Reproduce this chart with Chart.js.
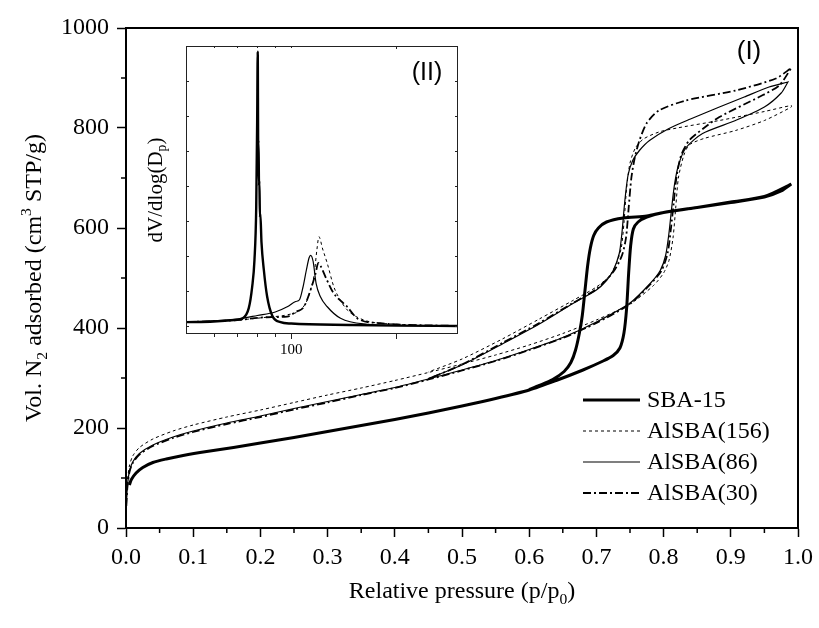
<!DOCTYPE html>
<html>
<head>
<meta charset="utf-8">
<script src="https://cdn.jsdelivr.net/npm/chart.js@4.4.1/dist/chart.umd.min.js"></script>
<style>
  html, body { margin: 0; padding: 0; background: #fff; }
  #wrap { position: relative; width: 819px; height: 628px; }
  #main { position: absolute; left: 0; top: 0; }
  #inset { position: absolute; left: 176px; top: 36px; }
</style>
</head>
<body>
<div id="wrap">
  <canvas id="main" width="819" height="628"></canvas>
  <canvas id="inset" width="292" height="329"></canvas>
</div>
<script>
// ---- isotherm data: [p/p0, volume adsorbed (cm3 STP/g)] ----
const seriesNames = ["SBA-15", "AlSBA(156)", "AlSBA(86)", "AlSBA(30)"];

const sba15Ads = [
  [0.005, 86], [0.008, 97], [0.015, 110], [0.025, 121], [0.04, 131],
  [0.06, 138], [0.085, 145], [0.12, 153], [0.16, 161], [0.2, 170], [0.25, 181],
  [0.3, 193], [0.35, 205], [0.4, 217], [0.45, 230], [0.5, 244], [0.55, 259],
  [0.6, 276], [0.64, 295], [0.68, 316], [0.71, 334], [0.725, 345], [0.735, 360],
  [0.741, 390], [0.745, 440], [0.748, 510], [0.751, 565], [0.755, 598], [0.762, 612],
  [0.775, 622], [0.8, 631], [0.85, 641], [0.9, 651], [0.95, 662], [0.975, 674], [0.99, 688]
];
const sba15Des = [
  [0.99, 688], [0.95, 663], [0.9, 652], [0.85, 641], [0.8, 631], [0.775, 624],
  [0.74, 620], [0.715, 612], [0.703, 600], [0.696, 585], [0.691, 560], [0.687, 525],
  [0.683, 475], [0.679, 425], [0.675, 392], [0.669, 356], [0.662, 331], [0.652, 313],
  [0.635, 297], [0.615, 285], [0.6, 277]
];

const al156Ads = [
  [0.0005, 50], [0.002, 92], [0.005, 124], [0.01, 144], [0.02, 161], [0.04, 178],
  [0.07, 194], [0.1, 206], [0.15, 222], [0.2, 236], [0.25, 251], [0.3, 266],
  [0.35, 280], [0.4, 295], [0.45, 311], [0.5, 328], [0.55, 346], [0.6, 366],
  [0.65, 389], [0.7, 416], [0.75, 448], [0.785, 485], [0.8, 510], [0.808, 535],
  [0.814, 580], [0.818, 640], [0.822, 700], [0.83, 745], [0.838, 766], [0.86, 779],
  [0.907, 795], [0.95, 815], [0.99, 842]
];
const al156Des = [
  [0.99, 845], [0.95, 833], [0.883, 815], [0.82, 800], [0.793, 792], [0.77, 778],
  [0.758, 760], [0.75, 730], [0.745, 680], [0.741, 610], [0.737, 560], [0.73, 530],
  [0.72, 505], [0.7, 482], [0.665, 455], [0.615, 418], [0.56, 378], [0.5, 338], [0.45, 312]
];

const al86Ads = [
  [0.0005, 45], [0.002, 82], [0.005, 113], [0.01, 132], [0.02, 149], [0.04, 166],
  [0.07, 182], [0.1, 194], [0.15, 210], [0.2, 224], [0.25, 239], [0.3, 253],
  [0.35, 267], [0.4, 281], [0.45, 298], [0.5, 316], [0.55, 335], [0.6, 357],
  [0.65, 381], [0.7, 412], [0.75, 450], [0.78, 489], [0.795, 515], [0.803, 545],
  [0.808, 590], [0.812, 640], [0.816, 685], [0.822, 725], [0.833, 760], [0.858, 789],
  [0.907, 815], [0.95, 842], [0.975, 870], [0.985, 892]
];
const al86Des = [
  [0.985, 892], [0.957, 882], [0.92, 862], [0.883, 842], [0.84, 818], [0.808, 799],
  [0.779, 775], [0.764, 755], [0.754, 735], [0.747, 705], [0.742, 650], [0.738, 590],
  [0.734, 549], [0.725, 515], [0.715, 495], [0.7, 476], [0.665, 449], [0.615, 408],
  [0.56, 368], [0.5, 326], [0.45, 299]
];

const al30Ads = [
  [0.0005, 44], [0.002, 80], [0.005, 111], [0.01, 130], [0.02, 147], [0.04, 164],
  [0.07, 180], [0.1, 192], [0.15, 208], [0.2, 222], [0.25, 237], [0.3, 251],
  [0.35, 266], [0.4, 280], [0.45, 297], [0.5, 315], [0.55, 334], [0.6, 356],
  [0.65, 380], [0.7, 410], [0.75, 448], [0.78, 487], [0.797, 515], [0.806, 550],
  [0.811, 600], [0.815, 650], [0.819, 700], [0.826, 745], [0.838, 775], [0.86, 800],
  [0.883, 822], [0.942, 862], [0.972, 885], [0.99, 920]
];
const al30Des = [
  [0.99, 920], [0.967, 899], [0.907, 875], [0.833, 855], [0.793, 835], [0.775, 810],
  [0.764, 775], [0.757, 740], [0.752, 700], [0.748, 640], [0.744, 580], [0.738, 545],
  [0.725, 512], [0.7, 478], [0.665, 450], [0.615, 410], [0.56, 370], [0.5, 327], [0.45, 298]
];

// ---- inset: pore size distribution [Dp (Å), dV/dlog(Dp) arb.] ----
const sba15Psd = [
  [50, 0.11], [60, 0.13], [70, 0.18], [72.4, 0.21], [75.6, 0.51], [77.3, 1.11],
  [78.5, 1.89], [79.4, 3.37], [79.9, 5.83], [80.2, 7.84], [80.45, 5.2], [80.6, 5.3],
  [80.9, 4.0], [81.05, 4.15], [81.4, 3.1], [81.6, 3.2], [82.2, 2.4], [83.5, 1.6],
  [85.3, 0.85], [88.2, 0.3], [93.2, 0.11], [100, 0.07], [150, 0.03], [200, 0.01], [300, 0.0]
];
const al156Psd = [
  [50, 0.11], [70, 0.17], [85, 0.25], [97.4, 0.32], [106.3, 0.46], [111.1, 0.74],
  [114, 1.1], [116.1, 1.41], [118.5, 2.2], [120, 2.55], [123, 2.2], [126.8, 1.79],
  [132.4, 1.12], [138, 0.75], [144.6, 0.46], [161.5, 0.17], [200, 0.05], [300, 0.0]
];
const al86Psd = [
  [50, 0.11], [70, 0.2], [80, 0.3], [90, 0.4], [97.4, 0.55], [103, 0.7], [105.6, 0.75],
  [108, 1.1], [110.5, 1.6], [112.5, 1.95], [113.6, 2.02], [115.5, 1.85], [117.8, 1.22],
  [121, 0.85], [126.8, 0.55], [138.4, 0.22], [165, 0.05], [200, 0.02], [300, 0.0]
];
const al30Psd = [
  [50, 0.11], [70, 0.17], [85, 0.25], [97.4, 0.27], [103, 0.4], [108.7, 0.55],
  [113.6, 1.03], [117.4, 1.5], [119.5, 1.8], [121.3, 1.72], [126, 1.35], [132, 0.95],
  [144.6, 0.55], [155, 0.21], [180, 0.08], [300, 0.0]
];

const styles = [
  { width: 3, dash: [] },
  { width: 1, dash: [3, 3] },
  { width: 1.2, dash: [] },
  { width: 1.8, dash: [8, 3, 2, 3] }
];

const serif = "'Liberation Serif', 'Times New Roman', serif";
const sans = "'Liberation Sans', Arial, sans-serif";

function toPts(arr) {
  return arr.map(function (d) { return { x: d[0], y: d[1] }; });
}

function drawRich(ctx, parts, x, y, size, family) {
  let total = 0;
  parts.forEach(function (p) {
    ctx.font = (p.sub || p.sup ? size * 0.65 : size) + "px " + family;
    total += ctx.measureText(p.t).width;
  });
  let cx = x - total / 2;
  ctx.textAlign = "left";
  ctx.textBaseline = "middle";
  parts.forEach(function (p) {
    ctx.font = (p.sub || p.sup ? size * 0.65 : size) + "px " + family;
    let dy = p.sub ? size * 0.32 : p.sup ? -size * 0.35 : 0;
    ctx.fillText(p.t, cx, y + dy);
    cx += ctx.measureText(p.t).width;
  });
}

const mainDecor = {
  id: "mainDecor",
  afterDraw(chart) {
    const ctx = chart.ctx;
    const a = chart.chartArea;
    const xs = chart.scales.x, ys = chart.scales.y;
    ctx.save();
    ctx.strokeStyle = "#000";
    ctx.fillStyle = "#000";
    // frame top / right
    ctx.lineWidth = 2;
    ctx.beginPath();
    ctx.moveTo(a.left, a.top); ctx.lineTo(a.right, a.top); ctx.lineTo(a.right, a.bottom);
    ctx.stroke();
    // minor ticks
    ctx.lineWidth = 1.5;
    for (let v = 0.05; v < 1; v += 0.1) {
      const px = xs.getPixelForValue(v);
      ctx.beginPath(); ctx.moveTo(px, a.bottom); ctx.lineTo(px, a.bottom + 5); ctx.stroke();
    }
    for (let v = 100; v < 1000; v += 200) {
      const py = ys.getPixelForValue(v);
      ctx.beginPath(); ctx.moveTo(a.left, py); ctx.lineTo(a.left - 5, py); ctx.stroke();
    }
    // axis titles
    drawRich(ctx, [{ t: "Relative pressure (p/p" }, { t: "0", sub: true }, { t: ")" }],
      (a.left + a.right) / 2, 592, 24, serif);
    ctx.save();
    ctx.translate(35, (a.top + a.bottom) / 2);
    ctx.rotate(-Math.PI / 2);
    drawRich(ctx, [{ t: "Vol. N" }, { t: "2", sub: true }, { t: " adsorbed (cm" }, { t: "3", sup: true }, { t: " STP/g)" }],
      0, 0, 24, serif);
    ctx.restore();
    // inset y title
    ctx.save();
    ctx.translate(156, 190);
    ctx.rotate(-Math.PI / 2);
    drawRich(ctx, [{ t: "dV/dlog(D" }, { t: "p", sub: true }, { t: ")" }], 0, 0, 21, serif);
    ctx.restore();
    // (I)
    ctx.font = "26px " + sans;
    ctx.textAlign = "center";
    ctx.textBaseline = "middle";
    ctx.fillText("(I)", 749, 52);
    // legend
    const rows = [400, 431, 462, 493];
    seriesNames.forEach(function (name, i) {
      ctx.lineWidth = styles[i].width;
      ctx.setLineDash(styles[i].dash);
      ctx.beginPath(); ctx.moveTo(583, rows[i]); ctx.lineTo(640, rows[i]); ctx.stroke();
      ctx.setLineDash([]);
      ctx.font = "24px " + serif;
      ctx.textAlign = "left";
      ctx.textBaseline = "middle";
      ctx.fillText(name, 647, rows[i] + 1);
    });
    ctx.restore();
  }
};

const insetDecor = {
  id: "insetDecor",
  afterDraw(chart) {
    const ctx = chart.ctx;
    const a = chart.chartArea;
    const xs = chart.scales.x, ys = chart.scales.y;
    ctx.save();
    ctx.strokeStyle = "#222";
    ctx.fillStyle = "#000";
    ctx.lineWidth = 1;
    ctx.strokeRect(a.left + 0.5, a.top + 0.5, a.right - a.left - 1, a.bottom - a.top);
    [60, 70, 80, 90, 100, 200].forEach(function (v) {
      const px = Math.round(xs.getPixelForValue(v)) + 0.5;
      const len = (v === 100 || v === 200) ? 6 : 4;
      ctx.beginPath(); ctx.moveTo(px, a.bottom); ctx.lineTo(px, a.bottom + len); ctx.stroke();
      ctx.beginPath(); ctx.moveTo(px, a.top); ctx.lineTo(px, a.top + (v === 200 ? 3 : 2)); ctx.stroke();
    });
    for (let v = 0; v <= 8; v++) {
      const py = Math.round(ys.getPixelForValue(v)) + 0.5;
      ctx.beginPath(); ctx.moveTo(a.right - 3, py); ctx.lineTo(a.right, py); ctx.stroke();
      ctx.beginPath(); ctx.moveTo(a.left, py); ctx.lineTo(a.left + 3, py); ctx.stroke();
    }
    ctx.font = "15px " + serif;
    ctx.textAlign = "center";
    ctx.textBaseline = "middle";
    ctx.fillText("100", xs.getPixelForValue(100), a.bottom + 17);
    ctx.font = "25px " + sans;
    ctx.fillText("(II)", 251, 37);
    ctx.restore();
  }
};

const mainSets = [
  sba15Ads.concat(sba15Des), al156Ads.concat(al156Des),
  al86Ads.concat(al86Des), al30Ads.concat(al30Des)
].map(function (d, i) {
  return {
    label: seriesNames[i], data: toPts(d), showLine: true, pointRadius: 0,
    borderColor: "#000", borderWidth: styles[i].width, borderDash: styles[i].dash,
    tension: 0.25, fill: false
  };
});

new Chart(document.getElementById("main"), {
  type: "scatter",
  data: { datasets: mainSets },
  options: {
    responsive: false, animation: false, devicePixelRatio: 1,
    layout: { padding: { top: 28, right: 20, left: 0, bottom: 0 } },
    plugins: { legend: { display: false }, tooltip: { enabled: false } },
    scales: {
      x: {
        type: "linear", min: 0, max: 1,
        ticks: { stepSize: 0.1, autoSkip: false, maxRotation: 0, color: "#000", padding: 6,
          font: { family: serif, size: 24 }, callback: function (v) { return v.toFixed(1); } },
        grid: { drawOnChartArea: false, tickLength: 9, tickColor: "#000", tickWidth: 1.5 },
        border: { color: "#000", width: 2 },
        afterFit: function (s) { s.height = 100; }
      },
      y: {
        type: "linear", min: 0, max: 1000,
        ticks: { stepSize: 200, color: "#000", padding: 8, font: { family: serif, size: 24 },
          callback: function (v) { return String(v); } },
        grid: { drawOnChartArea: false, tickLength: 9, tickColor: "#000", tickWidth: 1.5 },
        border: { color: "#000", width: 2 },
        afterFit: function (s) { s.width = 126; }
      }
    }
  },
  plugins: [mainDecor]
});

const insetSets = [sba15Psd, al156Psd, al86Psd, al30Psd].map(function (d, i) {
  return {
    label: seriesNames[i], data: toPts(d), showLine: true, pointRadius: 0,
    borderColor: "#000", borderWidth: i === 0 ? 2.4 : styles[i].width,
    borderDash: styles[i].dash, cubicInterpolationMode: "monotone", fill: false
  };
});

new Chart(document.getElementById("inset"), {
  type: "scatter",
  data: { datasets: insetSets },
  options: {
    responsive: false, animation: false, devicePixelRatio: 1,
    layout: { padding: { top: 10, right: 10, left: 10, bottom: 32 } },
    plugins: { legend: { display: false }, tooltip: { enabled: false } },
    scales: {
      x: { type: "logarithmic", min: 50, max: 300, display: false },
      y: { type: "linear", min: -0.2, max: 8, display: false }
    }
  },
  plugins: [insetDecor]
});
</script>
</body>
</html>
